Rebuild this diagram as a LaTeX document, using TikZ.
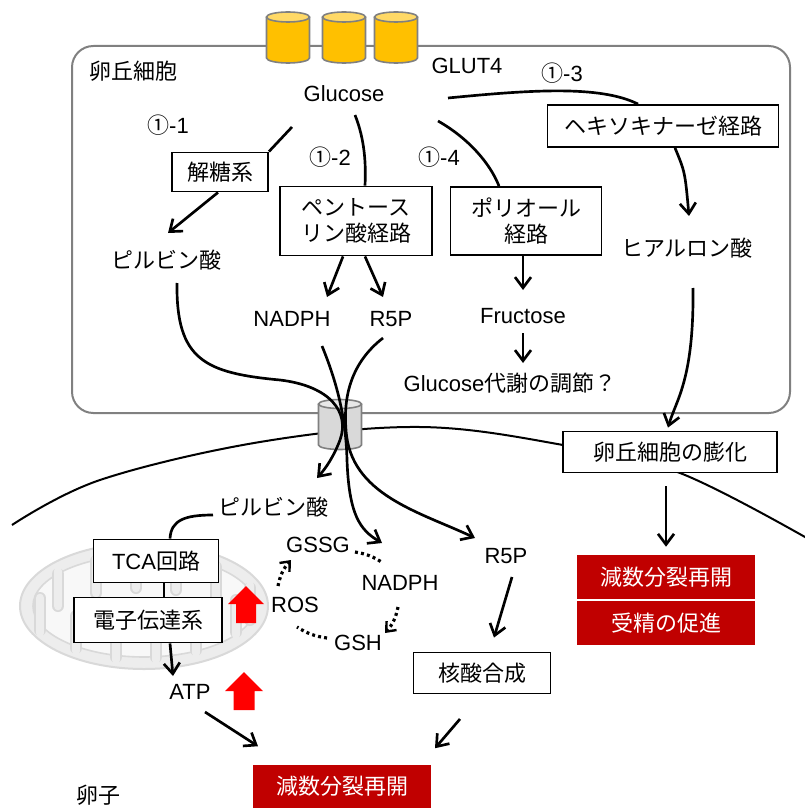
\documentclass[tikz,border=0pt]{standalone}
\usepackage{fontspec}
\setmainfont{Liberation Sans}
\newfontfamily\jp{Noto Sans CJK JP}
\usetikzlibrary{arrows.meta,calc}
\newcommand\jt[1]{{\jp #1}}
\definecolor{cellgray}{HTML}{808080}
\definecolor{glutbody}{HTML}{FFC000}
\definecolor{glutlid}{HTML}{FFD966}
\definecolor{gapbody}{HTML}{D9D9D9}
\definecolor{gaplid}{HTML}{E8E8E8}
\definecolor{darkred}{HTML}{C00000}
\definecolor{mitofill}{HTML}{EDEDED}
\definecolor{mitoline}{HTML}{D9D9D9}
\definecolor{matrix}{HTML}{F8F8F8}

\begin{document}
\begin{tikzpicture}[x=0.75pt,y=-0.75pt,
  every node/.style={font=\fontsize{16.5}{19}\selectfont, inner sep=1pt},
  box/.style n args={2}{draw, line width=1.4pt, fill=white, align=center,
    inner sep=0pt, minimum width=#1*0.75pt, minimum height=#2*0.75pt},
  redbox/.style n args={2}{fill=darkred, text=white, inner sep=0pt,
    minimum width=#1*0.75pt, minimum height=#2*0.75pt},
  conn/.style={line width=2pt, line join=round},
  arr/.style={conn, -{Straight Barb[length=8pt, width=12pt, line width=2pt]}},
  dots/.style={line width=2.4pt, dash pattern=on 2.2pt off 2.4pt},
  dotarr/.style={dots, -{Straight Barb[length=6pt, width=10pt, line width=1.8pt]}},
]
\useasboundingbox (0,0) rectangle (805,809);

% cumulus cell outline
\draw[cellgray, line width=1.5pt, rounded corners=16pt] (72,46) rectangle (790,413);

% oocyte membrane
\draw[line width=1.5pt] plot[smooth, tension=0.6] coordinates
  {(12,525) (100,480) (260,442) (420,427) (563,445) (680,473) (812,541)};

% gap junction channel
\fill[gapbody] (318.5,404) rectangle (361.5,445);
\fill[gapbody] (340,445) ellipse [x radius=21.5, y radius=4.5];
\draw[cellgray, line width=1.2pt] (318.5,404) -- (318.5,445)
  arc[start angle=180, end angle=0, x radius=21.5, y radius=4.5] -- (361.5,404);
\filldraw[fill=gaplid, draw=cellgray, line width=1.2pt] (340,404) ellipse [x radius=21.5, y radius=4.5];

% GLUT4 transporters
\foreach \cx in {288,344,396} {
  \fill[glutbody] (\cx-21.5,17) rectangle (\cx+21.5,58);
  \fill[glutbody] (\cx,58) ellipse [x radius=21.5, y radius=5];
  \draw[cellgray, line width=1.2pt] (\cx-21.5,17) -- (\cx-21.5,58)
    arc[start angle=180, end angle=0, x radius=21.5, y radius=5] -- (\cx+21.5,17);
  \filldraw[fill=glutlid, draw=cellgray, line width=1.2pt] (\cx,17) ellipse [x radius=21.5, y radius=5];
}

% mitochondrion: outer membrane, matrix and cristae folds
\filldraw[fill=mitofill, draw=mitoline, line width=1.5pt] (144,606) ellipse [x radius=124, y radius=63];
\filldraw[fill=matrix, draw=mitoline, line width=1.2pt] (144,606) ellipse [x radius=111, y radius=51];
\foreach \x/\y/\d in {58/574/1, 96/561/1, 136/556/1, 176/558/1, 216/567/1, 250/588/1,
                      40/630/-1, 76/648/-1, 116/657/-1, 156/657/-1, 196/650/-1, 236/632/-1} {
  \draw[mitoline, line width=9pt, line cap=round] (\x,\y) -- (\x,\y+\d*32);
  \draw[mitofill, line width=6.5pt, line cap=round] (\x,\y-\d*3) -- (\x,\y+\d*32);
}

% ---- nodes inside the cumulus cell
\node (cellname) at (133,71) {\jt{卵丘細胞}};
\node (glut) at (467,66) {GLUT4};
\node (glu) at (344,94) {Glucose};
\node (p1) at (168,125) {\jt{①}-1};
\node (p2) at (330,157) {\jt{①}-2};
\node (p3) at (562,73) {\jt{①}-3};
\node (p4) at (439,157) {\jt{①}-4};
\node[box={96}{39}] (gly) at (220,172) {\jt{解糖系}};
\node[box={152}{69}] (ppp) at (356,221) {\jt{ペントース}\\\jt{リン酸経路}};
\node[box={151}{68}] (pol) at (526,221) {\jt{ポリオール}\\\jt{経路}};
\node[box={231}{42}] (hk) at (663,126) {\jt{ヘキソキナーゼ経路}};
\node (pyr1) at (166,260) {\jt{ピルビン酸}};
\node (nadph1) at (292,319) {NADPH};
\node (r5p1) at (391,319) {R5P};
\node (fru) at (523,316) {Fructose};
\node (reg) at (510,383) {Glucose\jt{代謝の調節？}};
\node (ha) at (687,248) {\jt{ヒアルロン酸}};

% ---- nodes at the oocyte
\node[box={214}{41}] (exp) at (670,452) {\jt{卵丘細胞の膨化}};
\node[redbox={178}{44}] (red1) at (666,577) {\jt{減数分裂再開}};
\node[redbox={178}{44}] (red2) at (666,623) {\jt{受精の促進}};
\node (pyr2) at (273,507) {\jt{ピルビン酸}};
\node[box={125}{43}] (tca) at (156,561) {TCA\jt{回路}};
\node[box={148}{45}] (etc) at (148,620) {\jt{電子伝達系}};
\node (atp) at (190,692) {ATP};
\node (gssg) at (318,545) {GSSG};
\node (nadph2) at (400,583) {NADPH};
\node (ros) at (295,605) {ROS};
\node (gsh) at (358,643) {GSH};
\node (r5p2) at (506,556) {R5P};
\node[box={137}{41}] (nuc) at (482,673) {\jt{核酸合成}};
\node[redbox={178}{43}] (red3) at (342,786) {\jt{減数分裂再開}};
\node (egg) at (98,795) {\jt{卵子}};

% rising markers
\fill[red] (246,586) -- (264,604) -- (256,604) -- (256,623) -- (236,623) -- (236,604) -- (228,604) -- cycle;
\fill[red] (244,672) -- (263,691) -- (254.5,691) -- (254.5,710) -- (233.5,710) -- (233.5,691) -- (225,691) -- cycle;

% ---- connectors in the cumulus cell
\draw[conn] ([shift={(-52,33)}]glu.center) -- (gly.north east);
\draw[arr] ([shift={(-2,0)}]gly.south) -- ([shift={(2,-27)}]pyr1.center);
\draw[conn] ([shift={(11,21)}]glu.center) .. controls (365,140) and (366,165) .. ([shift={(9,0)}]ppp.north);
\draw[conn] ([shift={(94,27)}]glu.center) .. controls (468,138) and (490,163) .. ([shift={(-27,0)}]pol.north);
\draw[conn] ([shift={(104,4)}]glu.center) .. controls (530,90) and (600,85) .. ([shift={(-25,0)}]hk.north);
\draw[arr] ([shift={(-13,0)}]ppp.south) -- ([shift={(35,-22)}]nadph1.center);
\draw[arr] ([shift={(9,0)}]ppp.south) -- ([shift={(-8,-22)}]r5p1.center);
\draw[arr] ([shift={(-3,0)}]pol.south) -- ([shift={(0,-26)}]fru.center);
\draw[arr] ([shift={(0,17)}]fru.center) -- ([shift={(13,-20)}]reg.center);
\draw[arr] ([shift={(12,0)}]hk.south) .. controls (685,172) .. ([shift={(2,-32)}]ha.center);
\draw[arr] ([shift={(6,40)}]ha.center) .. controls (694,380) and (676,400) .. ([shift={(-2,-3)}]exp.north);
\draw[arr] ([shift={(-4,13)}]exp.south) -- ([shift={(0,-8)}]red1.north);

% ---- connectors through the gap junction
\draw[arr] ([shift={(11,23)}]pyr1.center) .. controls (176,360) and (205,373) .. (280,380)
  .. controls (330,386) and (350,412) .. (340,440) .. controls (334,456) and (326,468) .. ([shift={(44,-29)}]pyr2.center);
\draw[arr] ([shift={(30,27)}]nadph1.center) .. controls (338,385) and (346,420) .. (347,460)
  .. controls (349,515) and (360,530) .. ([shift={(-18,-40)}]nadph2.center);
\draw[arr] ([shift={(-8,19)}]r5p1.center) .. controls (352,362) and (343,395) .. (346,430)
  .. controls (350,495) and (420,512) .. ([shift={(-31,-18)}]r5p2.center);

% ---- connectors in the oocyte
\draw[conn] ([shift={(-60,8)}]pyr2.center) .. controls (185,515) and (171,520) .. ([shift={(14,0)}]tca.north);
\draw[conn] ([shift={(8,0)}]tca.south) -- ([shift={(16,0)}]etc.north);
\draw[arr] ([shift={(22,0)}]etc.south) -- ([shift={(-17,-16)}]atp.center);
\draw[arr] ([shift={(15,20)}]atp.center) -- ([shift={(-84,-18)}]red3.north);
\draw[arr] ([shift={(-22,46)}]nuc.center) -- ([shift={(93,-16)}]red3.north);
\draw[arr] ([shift={(6,21)}]r5p2.center) -- ([shift={(12,-14)}]nuc.north);

% glutathione cycle
\draw[dots] ([shift={(37,7)}]gssg.center) to[bend left=12] ([shift={(-17,-20)}]nadph2.center);
\draw[dotarr] ([shift={(-2,24)}]nadph2.center) to[bend left=15] ([shift={(27,-10)}]gsh.center);
\draw[dots] ([shift={(-31,-5)}]gsh.center) to[bend left=12] ([shift={(2,22)}]ros.center);
\draw[dotarr] ([shift={(-17,-19)}]ros.center) to[bend left=15] ([shift={(-27,15)}]gssg.center);
\end{tikzpicture}
\end{document}
